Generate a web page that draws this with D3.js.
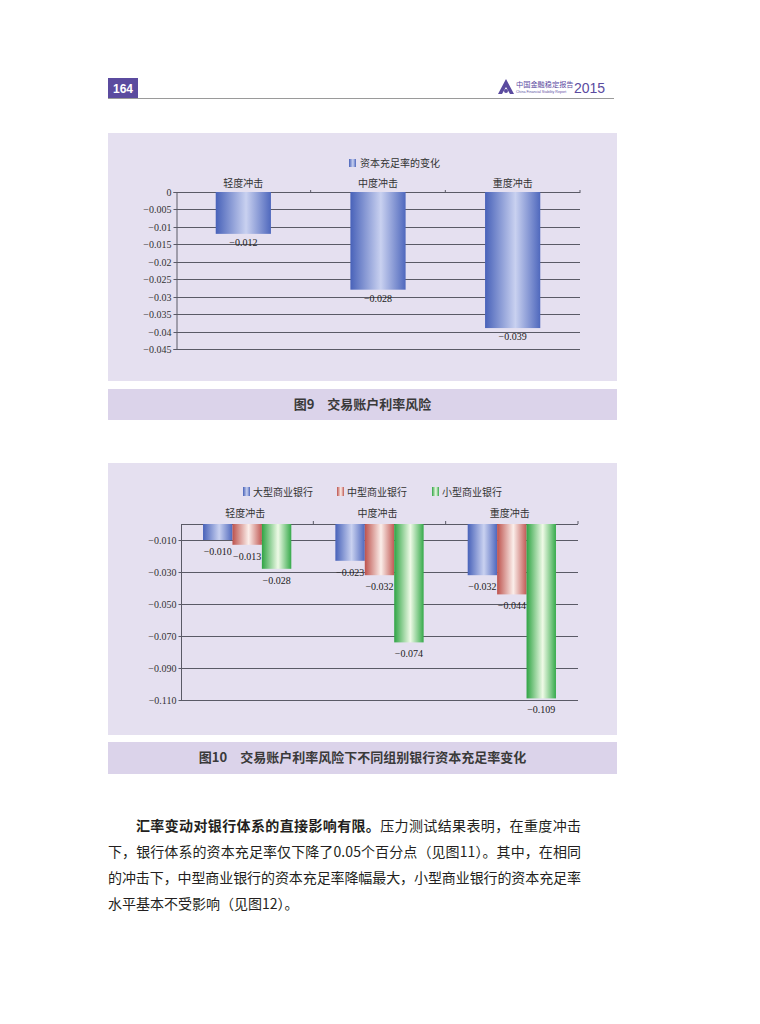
<!DOCTYPE html>
<html><head><meta charset="utf-8">
<script src="https://cdn.jsdelivr.net/npm/d3@7"></script>
<style>body{margin:0;background:#fff}svg{display:block}</style>
</head><body>
<script>
// ---------- data ----------
const categories = ["轻度冲击", "中度冲击", "重度冲击"];
const fig9Series = "资本充足率的变化";
const fig9Values = [-0.012, -0.028, -0.039];
const fig9Ticks = [0, -0.005, -0.01, -0.015, -0.02, -0.025, -0.03, -0.035, -0.04, -0.045];
const fig10Series = ["大型商业银行", "中型商业银行", "小型商业银行"];
const fig10Large = [-0.010, -0.023, -0.032];
const fig10Medium = [-0.013, -0.032, -0.044];
const fig10Small = [-0.028, -0.074, -0.109];
const fig10Ticks = [-0.010, -0.030, -0.050, -0.070, -0.090, -0.110];
const fig9Caption = "图9　交易账户利率风险";
const fig10Caption = "图10　交易账户利率风险下不同组别银行资本充足率变化";
const pageNumber = "164";

// ---------- setup ----------
const W = 760, H = 1024;
const svg = d3.select("body").append("svg").attr("width", W).attr("height", H);
const SERIF = "'Liberation Serif','Noto Sans CJK SC',serif";
const SANS = "'Noto Sans CJK SC','Noto Sans',sans-serif";
const minus = s => s.replace("-", "\u2212");
const defs = svg.append("defs");
function grad(id, dark, light, dark2) {
  const g = defs.append("linearGradient").attr("id", id).attr("x1", "0").attr("x2", "1").attr("y1", "0").attr("y2", "0");
  g.append("stop").attr("offset", "0%").attr("stop-color", dark);
  g.append("stop").attr("offset", "55%").attr("stop-color", light);
  g.append("stop").attr("offset", "100%").attr("stop-color", dark2 || dark);
}
grad("gBlue", "#4862b9", "#c9d1f0", "#4f68bd");
grad("gRed", "#bd524d", "#fbeeea", "#c15a55");
grad("gGreen", "#2fa444", "#eefae6", "#36aa4b");
const fills = ["url(#gBlue)", "url(#gRed)", "url(#gGreen)"];

// ---------- header ----------
svg.append("rect").attr("x", 108).attr("y", 78).attr("width", 30).attr("height", 21).attr("fill", "#5b4b9f");
svg.append("text").attr("x", 123).attr("y", 93).attr("text-anchor", "middle").attr("fill", "#fff")
  .attr("font-family", "'Liberation Sans',Arial,sans-serif").attr("font-weight", "bold").attr("font-size", 12).text(pageNumber);
svg.append("line").attr("x1", 108).attr("x2", 614).attr("y1", 98.5).attr("y2", 98.5).attr("stroke", "#9a9a9a").attr("stroke-width", 1);
// logo
svg.append("path").attr("d", "M506,79 L514,94 L510,94 L506,87 L502,94 L498,94 Z").attr("fill", "#5b4b9f");
svg.append("circle").attr("cx", 506).attr("cy", 91).attr("r", 2).attr("fill", "#5b4b9f");
svg.append("text").attr("x", 516).attr("y", 87).attr("fill", "#5b4b9f").attr("font-family", SANS).attr("font-size", 7.2).text("中国金融稳定报告");
svg.append("text").attr("x", 516).attr("y", 93).attr("fill", "#5b4b9f").attr("font-family", "'Liberation Sans',sans-serif").attr("font-size", 3.6).text("China Financial Stability Report");
svg.append("text").attr("x", 574).attr("y", 93).attr("fill", "#5b4b9f").attr("font-family", "'Liberation Sans',sans-serif").attr("font-size", 14).text("2015");

// ---------- panels ----------
const panelFill = "#e5e0f0", capFill = "#dbd3ea";
svg.append("rect").attr("x", 108).attr("y", 133).attr("width", 509).attr("height", 248).attr("fill", panelFill);
svg.append("rect").attr("x", 108).attr("y", 389).attr("width", 509).attr("height", 31).attr("fill", capFill);
svg.append("rect").attr("x", 108).attr("y", 463).attr("width", 509).attr("height", 272).attr("fill", panelFill);
svg.append("rect").attr("x", 108).attr("y", 742).attr("width", 509).attr("height", 32).attr("fill", capFill);
[[fig9Caption, 409], [fig10Caption, 762]].forEach(([t, y]) => {
  svg.append("text").attr("x", 362.5).attr("y", y).attr("text-anchor", "middle").attr("fill", "#3a3a3a")
    .attr("font-family", SANS).attr("font-weight", "bold").attr("font-size", 13).text(t);
});

const gridColor = "#5a5a66";

// ---------- figure 9 ----------
{
  const x = d3.scaleBand().domain(categories).range([176, 580]).paddingInner(0.59).paddingOuter(0.295);
  const y = d3.scaleLinear().domain([-0.045, 0]).range([349, 192]);
  const g = svg.append("g");
  // gridlines
  g.selectAll("line.grid").data(fig9Ticks).join("line").attr("class", "grid")
    .attr("x1", 176).attr("x2", 580).attr("y1", d => Math.round(y(d)) + 0.5).attr("y2", d => Math.round(y(d)) + 0.5)
    .attr("stroke", gridColor).attr("stroke-width", 1);
  // left axis
  const ax = g.append("g").attr("transform", "translate(176.5,0)")
    .call(d3.axisLeft(y).tickValues(fig9Ticks).tickSize(3).tickPadding(2)
      .tickFormat(d => d === 0 ? "0" : "\u2212" + String(Math.abs(d))));
  ax.select(".domain").attr("stroke", gridColor);
  ax.selectAll(".tick line").attr("stroke", gridColor);
  ax.selectAll(".tick").attr("transform", d => `translate(0,${Math.round(y(d)) + 0.5})`);
  ax.selectAll("text").attr("font-family", SERIF).attr("font-size", 10).attr("fill", "#333");
  // boundary ticks on top
  const bounds = categories.map((c, i) => 176 + x.step() * (i + 1));
  g.selectAll("line.bt").data(bounds).join("line").attr("x1", d => d).attr("x2", d => d)
    .attr("y1", y(0) - 2).attr("y2", y(0) + 1).attr("stroke", gridColor);
  // bars
  g.selectAll("rect.bar").data(fig9Values).join("rect")
    .attr("x", (d, i) => x(categories[i])).attr("width", x.bandwidth())
    .attr("y", y(0)).attr("height", d => y(d) - y(0)).attr("fill", fills[0]);
  // value labels
  g.selectAll("text.val").data(fig9Values).join("text")
    .attr("x", (d, i) => x(categories[i]) + x.bandwidth() / 2).attr("y", d => y(d) + 12)
    .attr("text-anchor", "middle").attr("font-family", SERIF).attr("font-size", 10).attr("fill", "#222")
    .text(d => minus(d3.format(".3f")(d)));
  // category labels
  g.selectAll("text.cat").data(categories).join("text")
    .attr("x", d => x(d) + x.bandwidth() / 2).attr("y", 187)
    .attr("text-anchor", "middle").attr("font-family", SANS).attr("font-size", 10).attr("fill", "#333").text(d => d);
  // legend
  const lg = g.append("g").attr("transform", "translate(349,159)");
  lg.append("rect").attr("width", 7).attr("height", 8).attr("fill", fills[0]);
  lg.append("text").attr("x", 11).attr("y", 8).attr("font-family", SANS).attr("font-size", 10).attr("fill", "#333").text(fig9Series);
}

// ---------- figure 10 ----------
{
  const x0 = d3.scaleBand().domain(categories).range([181, 578]).paddingInner(0.333).paddingOuter(0.1665);
  const x1 = d3.scaleBand().domain(fig10Series).range([0, x0.bandwidth()]);
  const y = d3.scaleLinear().domain([-0.110, 0]).range([700, 524]);
  const seriesVals = [fig10Large, fig10Medium, fig10Small];
  const g = svg.append("g");
  g.selectAll("line.grid").data(fig10Ticks).join("line")
    .attr("x1", 181).attr("x2", 578).attr("y1", d => Math.round(y(d)) + 0.5).attr("y2", d => Math.round(y(d)) + 0.5)
    .attr("stroke", gridColor).attr("stroke-width", 1);
  g.append("line").attr("x1", 181).attr("x2", 578).attr("y1", Math.round(y(0)) + 0.5).attr("y2", Math.round(y(0)) + 0.5)
    .attr("stroke", gridColor);
  const ax = g.append("g").attr("transform", "translate(181.5,0)")
    .call(d3.axisLeft(y).tickValues(fig10Ticks).tickSize(3).tickPadding(2)
      .tickFormat(d => minus(d3.format(".3f")(d))));
  ax.select(".domain").attr("stroke", gridColor).attr("d", `M0,${Math.round(y(0)) + 0.5}V${Math.round(y(-0.110)) + 0.5}`);
  ax.selectAll(".tick line").attr("stroke", gridColor);
  ax.selectAll(".tick").attr("transform", d => `translate(0,${Math.round(y(d)) + 0.5})`);
  ax.selectAll("text").attr("font-family", SERIF).attr("font-size", 10).attr("fill", "#333");
  const bounds = categories.map((c, i) => 181 + x0.step() * (i + 1));
  g.selectAll("line.bt").data(bounds).join("line").attr("x1", d => d).attr("x2", d => d)
    .attr("y1", y(0) - 3).attr("y2", y(0)).attr("stroke", gridColor);
  // bars
  fig10Series.forEach((s, si) => {
    const vals = seriesVals[si];
    g.selectAll("rect.s" + si).data(vals).join("rect").attr("class", "s" + si)
      .attr("x", (d, i) => x0(categories[i]) + x1(s)).attr("width", x1.bandwidth())
      .attr("y", y(0)).attr("height", d => y(d) - y(0)).attr("fill", fills[si]);
  });
  fig10Series.forEach((s, si) => {
    const vals = seriesVals[si];
    g.selectAll("text.v" + si).data(vals).join("text").attr("class", "v" + si)
      .attr("x", (d, i) => x0(categories[i]) + x1(s) + x1.bandwidth() / 2).attr("y", d => y(d) + 15)
      .attr("text-anchor", "middle").attr("font-family", SERIF).attr("font-size", 10).attr("fill", "#222")
      .text(d => minus(d3.format(".3f")(d)));
  });
  g.selectAll("text.cat").data(categories).join("text")
    .attr("x", d => x0(d) + x0.bandwidth() / 2 - 2).attr("y", 517)
    .attr("text-anchor", "middle").attr("font-family", SANS).attr("font-size", 10).attr("fill", "#333").text(d => d);
  const legX = [243, 337, 432];
  fig10Series.forEach((s, si) => {
    const lg = g.append("g").attr("transform", `translate(${legX[si]},487)`);
    lg.append("rect").attr("width", 7).attr("height", 9).attr("fill", fills[si]);
    lg.append("text").attr("x", 10).attr("y", 8.5).attr("font-family", SANS).attr("font-size", 10).attr("fill", "#333").text(s);
  });
}

// ---------- paragraph ----------
{
  const lines = [
    { x: 136, y: 831, len: 445, parts: [["汇率变动对银行体系的直接影响有限。", true], ["压力测试结果表明，在重度冲击", false]] },
    { x: 108, y: 857, len: 473, parts: [["下，银行体系的资本充足率仅下降了0.05个百分点（见图11）。其中，在相同", false]] },
    { x: 108, y: 883, len: 473, parts: [["的冲击下，中型商业银行的资本充足率降幅最大，小型商业银行的资本充足率", false]] },
    { x: 108, y: 909, len: null, parts: [["水平基本不受影响（见图12）。", false]] }
  ];
  lines.forEach(l => {
    const t = svg.append("text").attr("x", l.x).attr("y", l.y).attr("font-family", SANS).attr("font-size", 14).attr("fill", "#231f20");
    if (l.len) t.attr("textLength", l.len).attr("lengthAdjust", "spacing");
    l.parts.forEach(([s, b]) => t.append("tspan").attr("font-weight", b ? "bold" : "normal").text(s));
  });
}
</script>
</body></html>
